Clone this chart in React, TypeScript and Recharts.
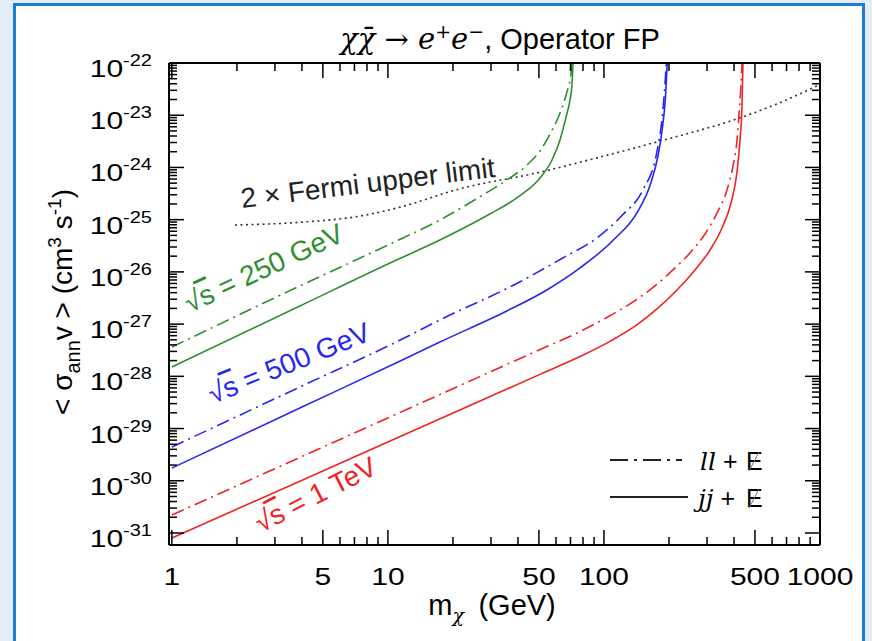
import React from 'react';
import { ComposedChart, Line, XAxis, YAxis } from 'recharts';

// sqrt(s) = 250 GeV
const green_jj = [
  { m: 1, sv: 1.51e-28 }, { m: 3.91, sv: 2.22e-27 }, { m: 10, sv: 1.42e-26 }, { m: 17.4, sv: 4.07e-26 },
  { m: 29.6, sv: 1.28e-25 }, { m: 40.7, sv: 2.84e-25 }, { m: 50.6, sv: 6.28e-25 }, { m: 57.5, sv: 1.39e-24 },
  { m: 62.6, sv: 3.35e-24 }, { m: 66.6, sv: 8.85e-24 }, { m: 69.6, sv: 1.95e-23 }, { m: 71.1, sv: 3.79e-23 },
  { m: 71.9, sv: 1e-22 },
];
const green_ll = [
  { m: 1, sv: 3.64e-28 }, { m: 3.91, sv: 5.37e-27 }, { m: 10, sv: 3.27e-26 }, { m: 17.4, sv: 9.86e-26 },
  { m: 27.5, sv: 2.97e-25 }, { m: 35.5, sv: 5.74e-25 }, { m: 44, sv: 1.11e-24 }, { m: 50.6, sv: 2.07e-24 },
  { m: 56.3, sv: 4.37e-24 }, { m: 62.6, sv: 1.1e-23 }, { m: 67.2, sv: 2.67e-23 }, { m: 70.3, sv: 5.89e-23 },
  { m: 71.1, sv: 1e-22 },
];

// sqrt(s) = 500 GeV
const blue_jj = [
  { m: 1, sv: 1.75e-30 }, { m: 3.91, sv: 2.47e-29 }, { m: 11.4, sv: 1.96e-28 }, { m: 17.4, sv: 4.54e-28 },
  { m: 35.5, sv: 1.78e-27 }, { m: 54.4, sv: 4.5e-27 }, { m: 77.5, sv: 1.19e-26 }, { m: 110.6, sv: 4.07e-26 },
  { m: 142.8, sv: 1.4e-25 }, { m: 163.6, sv: 4.61e-25 }, { m: 178.2, sv: 1.73e-24 }, { m: 185.9, sv: 5.21e-24 },
  { m: 192.2, sv: 1.95e-23 }, { m: 196.4, sv: 1e-22 },
];
const blue_ll = [
  { m: 1, sv: 4.43e-30 }, { m: 3.91, sv: 6.24e-29 }, { m: 11.4, sv: 4.95e-28 }, { m: 17.4, sv: 1.2e-27 },
  { m: 40.7, sv: 6.4e-27 }, { m: 64.5, sv: 1.85e-26 }, { m: 92.8, sv: 4.46e-26 }, { m: 121.8, sv: 1.23e-25 },
  { m: 151.4, sv: 3.7e-25 }, { m: 175.8, sv: 1.98e-24 }, { m: 185.9, sv: 8.85e-24 }, { m: 192.2, sv: 4.72e-23 },
  { m: 194.3, sv: 1e-22 },
];

// sqrt(s) = 1 TeV
const red_jj = [
  { m: 1, sv: 8.0e-32 }, { m: 3.91, sv: 9.82e-31 }, { m: 11.4, sv: 7.05e-30 }, { m: 26.7, sv: 3.37e-29 },
  { m: 50.6, sv: 1.09e-28 }, { m: 77.4, sv: 2.39e-28 }, { m: 106.6, sv: 4.68e-28 }, { m: 139.2, sv: 9.12e-28 },
  { m: 176, sv: 1.95e-27 }, { m: 217.8, sv: 4.5e-27 }, { m: 263.8, sv: 1.09e-26 }, { m: 309.6, sv: 2.62e-26 },
  { m: 351.9, sv: 6.92e-26 }, { m: 387.3, sv: 2.08e-25 }, { m: 412.9, sv: 8.18e-25 }, { m: 426.3, sv: 3.35e-24 },
  { m: 435.5, sv: 1.57e-23 }, { m: 440, sv: 1e-22 },
];
const red_ll = [
  { m: 1, sv: 2.21e-31 }, { m: 3.91, sv: 2.79e-30 }, { m: 11.4, sv: 2.04e-29 }, { m: 26.7, sv: 9.93e-29 },
  { m: 50.6, sv: 3.26e-28 }, { m: 77.4, sv: 7.18e-28 }, { m: 106.6, sv: 1.45e-27 }, { m: 139.2, sv: 2.82e-27 },
  { m: 172.2, sv: 5.37e-27 }, { m: 208.6, sv: 1.09e-26 }, { m: 250, sv: 2.3e-26 }, { m: 293.5, sv: 5.31e-26 },
  { m: 333.5, sv: 1.34e-25 }, { m: 371, sv: 3.7e-25 }, { m: 395.7, sv: 1.07e-24 }, { m: 412.9, sv: 3.35e-24 },
  { m: 421.7, sv: 1.01e-23 }, { m: 430.8, sv: 3.79e-23 }, { m: 435.5, sv: 1e-22 },
];

// 2 x Fermi upper limit
const fermi = [
  { m: 1.96, sv: 7.9e-26 }, { m: 3.91, sv: 8.9e-26 }, { m: 7.42, sv: 1.17e-25 }, { m: 11.4, sv: 1.74e-25 },
  { m: 21.5, sv: 3.9e-25 }, { m: 50.6, sv: 8.1e-25 }, { m: 95.8, sv: 1.58e-24 }, { m: 182, sv: 3.2e-24 },
  { m: 426, sv: 8.9e-24 }, { m: 653, sv: 1.74e-23 }, { m: 1000, sv: 3.9e-23 },
];

const xLabels = [1, 5, 10, 50, 100, 500, 1000];
const xTicks = [
  1, 2, 3, 4, 5, 6, 7, 8, 9, 10, 20, 30, 40, 50, 60, 70, 80, 90,
  100, 200, 300, 400, 500, 600, 700, 800, 900, 1000,
];
const yExponents = [-22, -23, -24, -25, -26, -27, -28, -29, -30, -31];
const yMantissas = [1, 2, 3, 4, 5, 6, 7, 8, 9];

const yTicks: number[] = [];
yExponents.forEach((e) => yMantissas.forEach((k) => {
  const v = k * Math.pow(10, e);
  if (v <= 1e-22 * 1.0001 && v >= Math.pow(10, -31.23)) yTicks.push(v);
}));

const GREEN = '#2f8f2f';
const BLUE = '#2727ee';
const RED = '#ee2424';
const DASHDOT = '13 5 2 5';
const FONT = "'Liberation Sans', Arial, Helvetica, sans-serif";
const SERIF = "'DejaVu Serif', 'Liberation Serif', serif";

const isDecade = (v: number) => Math.abs(Math.log10(v) - Math.round(Math.log10(v))) < 1e-6;

const BottomTick = (props: any) => {
  const { x, y, payload } = props;
  const v = payload.value;
  const major = xLabels.includes(v);
  return (
    <g>
      <line x1={x} y1={y} x2={x} y2={y - (major ? 15 : 8)} stroke="#000" strokeWidth={1.5} />
      {major && (
        <text transform={`translate(${x},${y + 40}) scale(1.25,1)`} textAnchor="middle" fontSize={24} fontFamily={FONT} fill="#000">{v}</text>
      )}
    </g>
  );
};

const TopTick = (props: any) => {
  const { x, y, payload } = props;
  const major = xLabels.includes(payload.value);
  return <line x1={x} y1={y} x2={x} y2={y + (major ? 15 : 8)} stroke="#000" strokeWidth={1.5} />;
};

const LeftTick = (props: any) => {
  const { x, y, payload } = props;
  const v = payload.value;
  const major = isDecade(v);
  return (
    <g>
      <line x1={x} y1={y} x2={x + (major ? 15 : 8)} y2={y} stroke="#000" strokeWidth={1.5} />
      {major && (
        <text transform={`translate(${x - 17},${y + 14}) scale(1.25,1)`} textAnchor="end" fontSize={24} fontFamily={FONT} fill="#000">
          10<tspan dy={-11} fontSize={16}>{Math.round(Math.log10(v))}</tspan>
        </text>
      )}
    </g>
  );
};

const RightTick = (props: any) => {
  const { x, y, payload } = props;
  const major = isDecade(payload.value);
  return <line x1={x} y1={y} x2={x - (major ? 15 : 8)} y2={y} stroke="#000" strokeWidth={1.5} />;
};

const Root = (s: string) => (
  <>
    {'\u221A'}<tspan style={{ textDecoration: 'overline' }}>{s}</tspan>
  </>
);

const App: React.FC = () => {
  const xDomain = [0.97, 1000];
  const yDomain = [Math.pow(10, -31.23), 1e-22];
  const axisLine = { stroke: '#000', strokeWidth: 2 };
  return (
    <div style={{ position: 'absolute', left: 0, top: 0, width: 872, height: 641, background: '#e4edf8', overflow: 'hidden' }}>
      <div style={{ position: 'absolute', left: 13, top: 3, width: 846, height: 660, background: '#fff', border: '3px solid #1c7cd6' }} />
      <div style={{ position: 'absolute', left: 0, top: 0 }}>
        <ComposedChart width={872} height={641} margin={{ top: 62, right: 51, bottom: 95, left: 168 }}>
          <XAxis
            xAxisId={0} type="number" dataKey="m" scale="log" domain={xDomain} allowDataOverflow
            ticks={xTicks} interval={0} tick={<BottomTick />} tickSize={0} tickMargin={0} tickLine={false}
            axisLine={axisLine} height={1}
          />
          <XAxis
            xAxisId="top" orientation="top" type="number" dataKey="m" scale="log" domain={xDomain} allowDataOverflow
            ticks={xTicks} interval={0} tick={<TopTick />} tickSize={0} tickMargin={0} tickLine={false}
            axisLine={axisLine} height={1}
          />
          <YAxis
            yAxisId={0} type="number" scale="log" domain={yDomain} allowDataOverflow
            ticks={yTicks} interval={0} tick={<LeftTick />} tickSize={0} tickMargin={0} tickLine={false}
            axisLine={axisLine} width={1}
          />
          <YAxis
            yAxisId="right" orientation="right" type="number" scale="log" domain={yDomain} allowDataOverflow
            ticks={yTicks} interval={0} tick={<RightTick />} tickSize={0} tickMargin={0} tickLine={false}
            axisLine={axisLine} width={1}
          />
          <Line data={fermi} dataKey="sv" type="monotone" stroke="#333" strokeWidth={1.6} strokeDasharray="2 3.5" dot={false} isAnimationActive={false} />
          <Line data={green_ll} dataKey="sv" type="monotone" stroke={GREEN} strokeWidth={1.6} strokeDasharray={DASHDOT} dot={false} isAnimationActive={false} />
          <Line data={green_jj} dataKey="sv" type="monotone" stroke={GREEN} strokeWidth={1.6} dot={false} isAnimationActive={false} />
          <Line data={blue_ll} dataKey="sv" type="monotone" stroke={BLUE} strokeWidth={1.6} strokeDasharray={DASHDOT} dot={false} isAnimationActive={false} />
          <Line data={blue_jj} dataKey="sv" type="monotone" stroke={BLUE} strokeWidth={1.6} dot={false} isAnimationActive={false} />
          <Line data={red_ll} dataKey="sv" type="monotone" stroke={RED} strokeWidth={1.6} strokeDasharray={DASHDOT} dot={false} isAnimationActive={false} />
          <Line data={red_jj} dataKey="sv" type="monotone" stroke={RED} strokeWidth={1.6} dot={false} isAnimationActive={false} />
        </ComposedChart>
      </div>
      <svg width={872} height={641} style={{ position: 'absolute', left: 0, top: 0, pointerEvents: 'none' }} fontFamily={FONT}>
        {/* title */}
        <text x={500} y={49} textAnchor="middle" fontSize={29} fill="#000">
          <tspan fontFamily={SERIF} fontStyle="italic">{'\u03C7\u03C7\u0304 \u2192 e'}</tspan>
          <tspan fontFamily={SERIF} fontStyle="italic" dy={-11} fontSize={19}>+</tspan>
          <tspan fontFamily={SERIF} fontStyle="italic" dy={11}>e</tspan>
          <tspan fontFamily={SERIF} dy={-11} fontSize={19}>{'\u2212'}</tspan>
          <tspan dy={11}>,  Operator FP</tspan>
        </text>
        {/* x axis title */}
        <text x={492} y={615} textAnchor="middle" fontSize={29} fill="#000">
          m<tspan dy={7} fontSize={19} fontFamily={SERIF} fontStyle="italic">{'\u03C7'}</tspan>
          <tspan dy={-7}>{'\u2002(GeV)'}</tspan>
        </text>
        {/* y axis title */}
        <text transform="translate(72,302) rotate(-90)" textAnchor="middle" fontSize={28} fill="#000">
          {'< \u03C3'}<tspan dy={8} fontSize={20}>ann</tspan><tspan dy={-8}>{'v >  (cm'}</tspan>
          <tspan dy={-11} fontSize={19}>3</tspan><tspan dy={11}>{' s'}</tspan>
          <tspan dy={-11} fontSize={19}>-1</tspan><tspan dy={11}>)</tspan>
        </text>
        {/* curve labels */}
        <text transform="translate(190,313) rotate(-25)" fontSize={28} fill={GREEN}>{Root('s')}{' = 250 GeV'}</text>
        <text transform="translate(213,404) rotate(-22)" fontSize={28} fill={BLUE}>{Root('s')}{' = 500 GeV'}</text>
        <text transform="translate(261,533) rotate(-27)" fontSize={28} fill={RED}>{Root('s')}{' = 1 TeV'}</text>
        <text transform="translate(242,208) rotate(-7)" fontSize={28} fill="#222">{'2 \u00D7 Fermi upper limit'}</text>
        {/* legend */}
        <line x1={610} y1={460} x2={682} y2={460} stroke="#222" strokeWidth={1.8} strokeDasharray="18 6 3 6" />
        <line x1={610} y1={497} x2={688} y2={497} stroke="#222" strokeWidth={1.8} />
        <text x={700} y={470} fontSize={25} fill="#000">
          <tspan fontFamily={SERIF} fontStyle="italic">ll</tspan>{' +'}
        </text>
        <text x={746} y={470} fontSize={25} fill="#000">E</text>
        <line x1={749} y1={471} x2={759} y2={452} stroke="#777" strokeWidth={1} />
        <text x={698} y={507} fontSize={25} fill="#000">
          <tspan fontFamily={SERIF} fontStyle="italic">jj</tspan>{' +'}
        </text>
        <text x={746} y={507} fontSize={25} fill="#000">E</text>
        <line x1={749} y1={508} x2={759} y2={489} stroke="#777" strokeWidth={1} />
      </svg>
    </div>
  );
};

export default App;
